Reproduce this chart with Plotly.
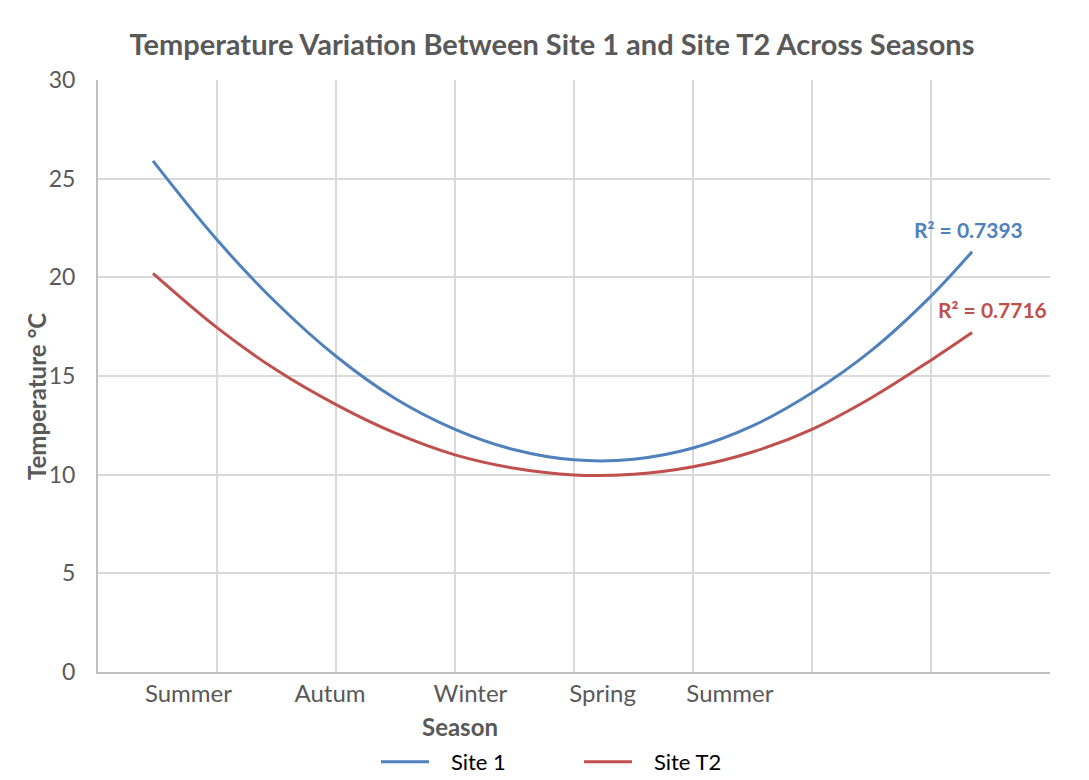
import plotly.graph_objects as go

# ---- data ----
x_pos = [0.462, 1, 1.5, 2, 2.5, 3, 3.5, 4, 4.5, 5, 5.5, 6, 6.5, 7, 7.345]
site1 = [25.9, 21.9, 18.7, 16.0, 13.85, 12.3, 11.26, 10.75, 10.78, 11.35, 12.47, 14.15, 16.3, 19.05, 21.3]
site_t2 = [20.2, 17.45, 15.3, 13.55, 12.1, 11.0, 10.32, 9.98, 10.02, 10.4, 11.15, 12.3, 13.9, 15.8, 17.2]
season_labels = ["Summer", "Autum", "Winter", "Spring", "Summer"]
season_tick_pos = [0.76, 1.95, 3.13, 4.24, 5.31]
series_names = ["Site 1", "Site T2"]
r2_site1 = "R² = 0.7393"
r2_site_t2 = "R² = 0.7716"

BLUE = "#4F81BD"
RED = "#C0504D"
GRID = "#D9D9D9"
TXT = "#595959"
FONT = "Lato"
GAP = "\u00a0" * 3  # small gap between legend line and its label

# page body has an 8px margin: figure is sized/offset so the plot area lands at 98..1050 x 80..672
OFF = 8
W, H = 1089 - OFF, 780 - OFF
ML, MR, MT, MB = 98 - OFF, 39, 80 - OFF, 108
PW, PH = W - ML - MR, H - MT - MB


def px_x(p):  # page px -> paper x
    return (p - OFF - ML) / PW


def px_y(p):  # page px -> paper y
    return (H - MB - (p - OFF)) / PH


fig = go.Figure()
fig.add_trace(go.Scatter(x=x_pos, y=site1, mode="lines", name=GAP + series_names[0],
                         line=dict(color=BLUE, width=3, shape="spline", smoothing=1.0),
                         hoverinfo="skip"))
fig.add_trace(go.Scatter(x=x_pos, y=site_t2, mode="lines", name=GAP + series_names[1],
                         line=dict(color=RED, width=3, shape="spline", smoothing=1.0),
                         hoverinfo="skip"))
# invisible trace carrying the season tick axis
fig.add_trace(go.Scatter(x=season_tick_pos, y=[0] * len(season_tick_pos), xaxis="x2",
                         mode="markers", marker=dict(opacity=0), showlegend=False,
                         hoverinfo="skip"))

fig.add_annotation(x=x_pos[-1], y=site1[-1], text="<b>" + r2_site1 + "</b>",
                   showarrow=False, xanchor="center", yanchor="middle", xshift=-4, yshift=22,
                   font=dict(family=FONT, size=21, color=BLUE))
fig.add_annotation(x=x_pos[-1], y=site_t2[-1], text="<b>" + r2_site_t2 + "</b>",
                   showarrow=False, xanchor="center", yanchor="middle", xshift=20, yshift=23,
                   font=dict(family=FONT, size=21, color=RED))

fig.add_annotation(xref="paper", yref="paper", x=px_x(460), y=px_y(726),
                   text="<b>Season</b>", showarrow=False, xanchor="center", yanchor="middle",
                   font=dict(family=FONT, size=24, color=TXT))
fig.add_annotation(xref="paper", yref="paper", x=px_x(36), y=px_y(396),
                   text="<b>Temperature °C</b>", showarrow=False, textangle=-90,
                   xanchor="center", yanchor="middle",
                   font=dict(family=FONT, size=24, color=TXT))

fig.add_shape(type="rect", xref="paper", yref="paper",
              x0=px_x(7), x1=px_x(1110), y0=px_y(800), y1=px_y(6.5),
              line=dict(color=GRID, width=1.5), fillcolor="rgba(0,0,0,0)", layer="below")

fig.update_layout(
    width=W, height=H,
    margin=dict(l=ML, r=MR, t=MT, b=MB, autoexpand=False),
    paper_bgcolor="white", plot_bgcolor="white",
    font=dict(family=FONT, color=TXT),
    title=dict(text="<b>Temperature Variation Between Site 1 and Site T2 Across Seasons</b>",
               x=(552 - OFF) / W, xanchor="center", y=1 - (45 - OFF) / H, yanchor="middle",
               font=dict(family=FONT, size=29, color=TXT)),
    xaxis=dict(range=[0, 8], dtick=1, tick0=0, showticklabels=False, showgrid=True,
               gridcolor=GRID, gridwidth=2, zeroline=False, showline=True,
               linecolor="#BFBFBF", linewidth=2, ticks="", automargin=False),
    xaxis2=dict(range=[0, 8], overlaying="x", anchor="y", side="bottom",
                tickmode="array", tickvals=season_tick_pos, ticktext=season_labels,
                showgrid=False, zeroline=False, showline=False, ticks="", automargin=False,
                ticklabelstandoff=5,
                tickfont=dict(family=FONT, size=24, color=TXT)),
    yaxis=dict(range=[0, 30], dtick=5, showgrid=True, gridcolor=GRID, gridwidth=2,
               zeroline=False, showline=True, linecolor="#BFBFBF", linewidth=2, ticks="",
               ticklabelstandoff=16, automargin=False,
               tickfont=dict(family=FONT, size=23, color=TXT)),
    legend=dict(orientation="h", x=px_x(376), xanchor="left",
                yref="container", y=(780 - 762) / H, yanchor="middle",
                itemwidth=48, entrywidth=140,
                font=dict(family=FONT, size=22, color="#000000"), bgcolor="rgba(0,0,0,0)"),
    showlegend=True,
)

fig.write_html("out.html")
